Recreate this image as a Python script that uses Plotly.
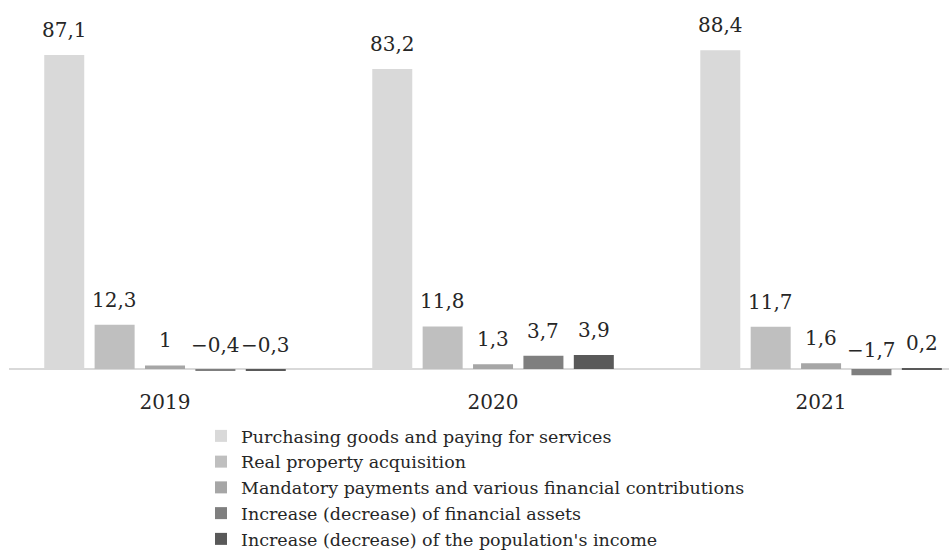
import plotly.graph_objects as go

categories = ["2019", "2020", "2021"]
series_names = [
    "Purchasing goods and paying for services",
    "Real property acquisition",
    "Mandatory payments and various financial contributions",
    "Increase (decrease) of financial assets",
    "Increase (decrease) of the population's income",
]
purchasing = [87.1, 83.2, 88.4]
real_property = [12.3, 11.8, 11.7]
mandatory = [1.0, 1.3, 1.6]
fin_assets = [-0.4, 3.7, -1.7]
income = [-0.3, 3.9, 0.2]
series_values = [purchasing, real_property, mandatory, fin_assets, income]
colors = ["#d9d9d9", "#bfbfbf", "#a6a6a6", "#7f7f7f", "#595959"]

FONT = "DejaVu Serif"
TXT = "#262626"

W, H = 949, 550
ml, mr, mt, mb = 9, 0, 20, 174
xr = [-0.4756, 2.390]
yr = [-1.94, 96.8]
bargap = 0.232
bargroupgap = 0.206


def fmt(v):
    s = f"{v:g}".replace(".", ",")
    return s.replace("-", "\u2212")


fig = go.Figure()
for name, vals, col in zip(series_names, series_values, colors):
    fig.add_trace(go.Bar(name=name, x=categories, y=vals, marker_color=col,
                         marker_line_width=0, hoverinfo="skip"))

plot_w = W - ml - mr
cat_px = plot_w / (xr[1] - xr[0])
n = len(series_values)
slot_px = cat_px * (1 - bargap) / n

annotations = []
for i, vals in enumerate(series_values):
    for ci, v in enumerate(vals):
        annotations.append(dict(
            x=ci, y=v, xref="x", yref="y", text=fmt(v), showarrow=False,
            xshift=(i - (n - 1) / 2) * slot_px, yshift=25, yanchor="middle",
            font=dict(family=FONT, size=20, color=TXT)))

fig.update_layout(
    width=W, height=H,
    margin=dict(l=ml, r=mr, t=mt, b=mb, pad=0, autoexpand=False),
    paper_bgcolor="white", plot_bgcolor="white",
    barmode="group", bargap=bargap, bargroupgap=bargroupgap,
    font=dict(family=FONT, color=TXT, size=20),
    xaxis=dict(type="category", range=xr, showgrid=False, showline=False,
               zeroline=False, ticks="outside", ticklen=8,
               tickcolor="rgba(0,0,0,0)",
               tickfont=dict(family=FONT, size=20, color=TXT)),
    yaxis=dict(range=yr, visible=True, showticklabels=False, showgrid=False,
               showline=False, zeroline=True, zerolinecolor="#d9d9d9",
               zerolinewidth=2),
    legend=dict(orientation="v", xref="container", yref="container",
                x=201 / W, y=1 - 418 / H, xanchor="left", yanchor="top",
                font=dict(family=FONT, size=17.5, color=TXT),
                bgcolor="rgba(0,0,0,0)", traceorder="normal", itemclick=False),
    annotations=annotations,
    showlegend=True,
)

fig.write_html("out.html")
